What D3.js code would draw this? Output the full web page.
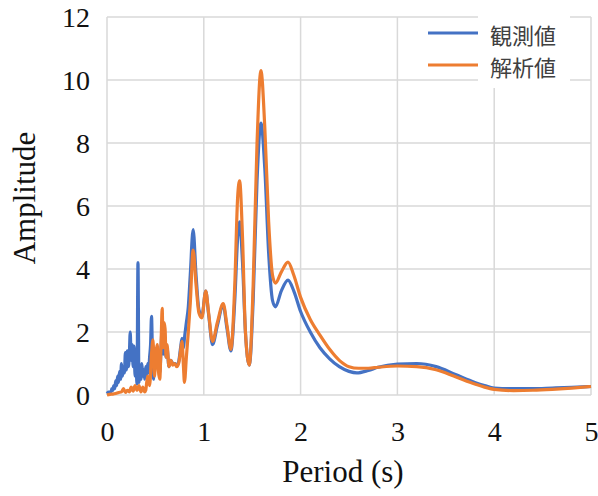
<!DOCTYPE html>
<html>
<head>
  <meta charset="utf-8">
  <title>Amplitude vs Period</title>
  <script src="https://d3js.org/d3.v7.min.js"></script>
  <style>
    body { margin: 0; background: #fff; }
  </style>
</head>
<body>
  <script>
    // Data: period (s) and amplitude for observed (観測値) and analysed (解析値)
    var obsPeriod = [0.00, 0.01, 0.02, 0.03, 0.04, 0.05, 0.06, 0.07, 0.08, 0.09, 0.10, 0.11, 0.12, 0.13, 0.14,
      0.15, 0.16, 0.17, 0.18, 0.19, 0.20, 0.21, 0.22, 0.23, 0.24, 0.25, 0.26, 0.27, 0.28, 0.29, 0.30, 0.31, 0.32,
      0.33, 0.34, 0.35, 0.36, 0.37, 0.38, 0.39, 0.40, 0.41, 0.42, 0.43, 0.44, 0.45, 0.46, 0.47, 0.48,
      0.49, 0.50, 0.52, 0.53, 0.545, 0.56, 0.57, 0.58, 0.59, 0.60, 0.61, 0.62, 0.64, 0.66, 0.68, 0.70, 0.72,
      0.74, 0.76, 0.775, 0.79, 0.80, 0.82, 0.84, 0.86, 0.89, 0.92, 0.95, 0.98, 1.02, 1.05, 1.09, 1.14, 1.20, 1.24,
      1.28, 1.32, 1.35, 1.37, 1.40, 1.43, 1.47, 1.51, 1.55, 1.59, 1.63, 1.67, 1.71, 1.74, 1.80, 1.87, 1.93, 2.00,
      2.10, 2.20, 2.30, 2.40, 2.50, 2.58, 2.70, 2.80, 3.00, 3.20, 3.40, 3.60, 3.80, 3.90, 4.00, 4.20, 4.40, 4.60,
      4.80, 5.00];
    var obsAmp = [0.12, 0.08, 0.05, 0.10, 0.08, 0.20, 0.15, 0.30, 0.20, 0.45, 0.30, 0.60, 0.40, 0.75, 0.50,
      1.00, 0.60, 0.90, 0.70, 1.35, 0.80, 1.40, 0.90, 1.20, 2.00, 1.10, 1.60, 0.90, 1.55, 0.60, 0.90, 0.35, 4.20,
      0.40, 0.90, 0.50, 1.00, 0.60, 0.80, 0.50, 0.90, 0.60, 1.00, 0.70, 1.20, 1.60, 2.50, 1.20, 0.50,
      1.10, 1.40, 1.50, 0.90, 0.70, 1.60, 2.20, 1.30, 2.00, 1.70, 1.20, 1.50, 0.90, 1.10, 1.00, 1.00, 0.95,
      1.05, 1.50, 1.80, 1.50, 1.80, 2.30, 2.80, 3.80, 5.25, 3.80, 2.70, 2.50, 3.30, 2.55, 1.60, 2.20, 2.85, 2.10,
      1.40, 3.00, 5.00, 5.50, 4.20, 2.00, 0.95, 3.00, 6.80, 8.63, 7.20, 4.50, 3.00, 2.80, 3.30, 3.65, 3.30, 2.65,
      2.00, 1.50, 1.15, 0.90, 0.75, 0.70, 0.78, 0.88, 0.98, 1.00, 0.90, 0.65, 0.40, 0.30, 0.22, 0.20, 0.20, 0.22,
      0.24, 0.27];

    var calPeriod = [0.00, 0.03, 0.06, 0.09, 0.12, 0.15, 0.17, 0.19, 0.21, 0.23, 0.25, 0.27, 0.29, 0.31, 0.33,
      0.35, 0.37, 0.39, 0.40, 0.42, 0.44, 0.46, 0.475, 0.49, 0.50, 0.52, 0.53, 0.545, 0.56, 0.57, 0.58, 0.59, 0.60,
      0.61, 0.62, 0.64, 0.66, 0.68, 0.70, 0.72, 0.74, 0.76, 0.775, 0.79, 0.80, 0.82, 0.84, 0.86, 0.89, 0.92, 0.95,
      0.98, 1.02, 1.05, 1.09, 1.14, 1.20, 1.24, 1.28, 1.32, 1.35, 1.37, 1.40, 1.43, 1.47, 1.51, 1.55, 1.59, 1.63,
      1.67, 1.71, 1.74, 1.80, 1.87, 1.93, 2.00, 2.10, 2.20, 2.30, 2.40, 2.50, 2.60, 2.70, 2.80, 3.00, 3.20, 3.40,
      3.60, 3.80, 3.90, 4.00, 4.20, 4.40, 4.60, 4.80, 5.00];
    var calAmp = [0.00, 0.02, 0.03, 0.05, 0.08, 0.10, 0.20, 0.08, 0.15, 0.10, 0.25, 0.12, 0.30, 0.15, 0.30,
      0.10, 0.25, 0.10, 0.15, 0.60, 0.30, 1.30, 1.75, 0.60, 1.00, 1.60, 0.80, 0.50, 1.80, 2.75, 1.50, 2.30, 2.10,
      1.20, 1.60, 0.90, 1.10, 0.95, 1.00, 0.90, 1.00, 1.40, 1.70, 0.90, 0.40, 1.20, 2.00, 2.90, 4.60, 3.50, 2.60,
      2.45, 3.30, 2.60, 1.70, 2.30, 2.90, 2.20, 1.45, 3.50, 6.30, 6.80, 5.00, 2.00, 0.95, 3.50, 8.00, 10.30, 8.50,
      5.50, 3.80, 3.55, 3.90, 4.22, 3.80, 3.10, 2.40, 1.90, 1.45, 1.10, 0.90, 0.85, 0.85, 0.88, 0.92, 0.90, 0.80,
      0.58, 0.35, 0.25, 0.18, 0.14, 0.15, 0.18, 0.22, 0.27];

    var seriesNames = ["観測値", "解析値"];
    var seriesColors = ["#4472C4", "#ED7D31"];
    var xTicks = [0, 1, 2, 3, 4, 5];
    var yTicks = [0, 2, 4, 6, 8, 10, 12];

    var W = 598, H = 496;
    var plot = {left: 107, right: 591, top: 17, bottom: 395};
    var serif = "'Liberation Serif', 'Times New Roman', serif";

    var svg = d3.select("body").append("svg")
      .attr("width", W)
      .attr("height", H);

    var x = d3.scaleLinear().domain([0, 5]).range([plot.left, plot.right]);
    var y = d3.scaleLinear().domain([0, 12]).range([plot.bottom, plot.top]);

    // gridlines
    svg.append("g")
      .selectAll("line")
      .data(yTicks)
      .enter().append("line")
      .attr("x1", plot.left).attr("x2", plot.right)
      .attr("y1", function(d) { return y(d); })
      .attr("y2", function(d) { return y(d); })
      .attr("stroke", "#d9d9d9")
      .attr("stroke-width", 1.5);

    svg.append("g")
      .selectAll("line")
      .data(xTicks)
      .enter().append("line")
      .attr("x1", function(d) { return x(d); })
      .attr("x2", function(d) { return x(d); })
      .attr("y1", plot.top).attr("y2", plot.bottom)
      .attr("stroke", "#d9d9d9")
      .attr("stroke-width", 1.5);

    // axes (labels only)
    var xAxis = svg.append("g")
      .attr("transform", "translate(0," + plot.bottom + ")")
      .call(d3.axisBottom(x).tickValues(xTicks).tickSize(0).tickFormat(d3.format("d")));
    xAxis.select(".domain").remove();
    xAxis.attr("font-family", serif).attr("font-size", 28);
    xAxis.selectAll(".tick text").attr("dy", "0").attr("y", 46).attr("fill", "#111");

    var yAxis = svg.append("g")
      .attr("transform", "translate(" + plot.left + ",0)")
      .call(d3.axisLeft(y).tickValues(yTicks).tickSize(0).tickPadding(17).tickFormat(d3.format("d")));
    yAxis.select(".domain").remove();
    yAxis.attr("font-family", serif).attr("font-size", 28);
    yAxis.selectAll(".tick text").attr("dy", "0.33em").attr("fill", "#111");

    // lines
    var line = d3.line()
      .curve(d3.curveMonotoneX)
      .x(function(d) { return x(d[0]); })
      .y(function(d) { return y(d[1]); });

    var obs = d3.zip(obsPeriod, obsAmp);
    var cal = d3.zip(calPeriod, calAmp);

    svg.append("path")
      .datum(obs)
      .attr("fill", "none")
      .attr("stroke", seriesColors[0])
      .attr("stroke-width", 3.2)
      .attr("stroke-linejoin", "round")
      .attr("d", line);

    svg.append("path")
      .datum(cal)
      .attr("fill", "none")
      .attr("stroke", seriesColors[1])
      .attr("stroke-width", 3.2)
      .attr("stroke-linejoin", "round")
      .attr("d", line);

    // axis titles
    svg.append("text")
      .attr("x", 343)
      .attr("y", 482)
      .attr("text-anchor", "middle")
      .style("font-family", serif)
      .style("font-size", "31px")
      .style("fill", "#111")
      .text("Period (s)");

    svg.append("text")
      .attr("transform", "translate(35,198) rotate(-90)")
      .attr("text-anchor", "middle")
      .style("font-family", serif)
      .style("font-size", "31px")
      .style("fill", "#111")
      .text("Amplitude");

    // legend
    svg.append("rect")
      .attr("x", 478).attr("y", 10)
      .attr("width", 92).attr("height", 78)
      .attr("fill", "#fff");

    var legend = svg.selectAll(".legend")
      .data(seriesNames)
      .enter().append("g")
      .attr("class", "legend")
      .attr("transform", function(d, i) { return "translate(0," + (i * 32) + ")"; });

    legend.append("line")
      .attr("x1", 428).attr("x2", 478)
      .attr("y1", 33).attr("y2", 33)
      .attr("stroke", function(d, i) { return seriesColors[i]; })
      .attr("stroke-width", 3);

    legend.append("text")
      .attr("x", 490)
      .attr("y", 36)
      .attr("dy", "0.35em")
      .style("font-family", "'Noto Sans CJK JP', sans-serif")
      .style("font-size", "22px")
      .style("fill", "#404040")
      .text(function(d) { return d; });
  </script>
</body>
</html>
